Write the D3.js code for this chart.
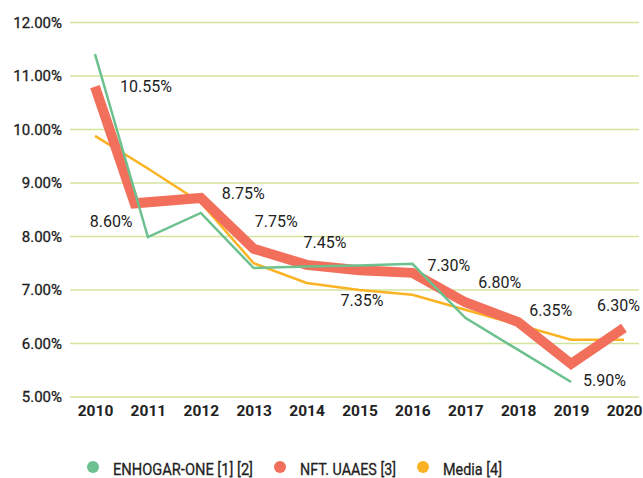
<!DOCTYPE html>
<html>
<head>
<meta charset="utf-8">
<script src="https://cdn.jsdelivr.net/npm/d3@7"></script>
<style>
  body { margin: 0; background: #fff; }
  text { font-family: Roboto, "Noto Sans", sans-serif; fill: #222; }
</style>
</head>
<body>
<svg id="chart"></svg>
<script>
// data
var years = [2010, 2011, 2012, 2013, 2014, 2015, 2016, 2017, 2018, 2019, 2020];
var yTicks = [5, 6, 7, 8, 9, 10, 11, 12];

var enhogarYears = [2010, 2011, 2012, 2013, 2014, 2015, 2016, 2017, 2018, 2019];
var enhogar = [11.41, 7.99, 8.44, 7.41, 7.44, 7.46, 7.49, 6.48, 5.88, 5.28];

var uaaesYears = [2010, 2010.75, 2012, 2013, 2014, 2015, 2016, 2017, 2018, 2019, 2020];
var uaaes = [10.80, 8.62, 8.72, 7.77, 7.47, 7.37, 7.32, 6.77, 6.40, 5.62, 6.29];
var uaaesLabels = ['10.55%', '8.60%', '8.75%', '7.75%', '7.45%', '7.35%', '7.30%', '6.80%', '6.35%', '5.90%', '6.30%'];

var mediaYears = [2010, 2011, 2012, 2013, 2014, 2015, 2016, 2017, 2018, 2019, 2020];
var media = [9.88, 9.27, 8.63, 7.50, 7.13, 7.00, 6.91, 6.63, 6.35, 6.07, 6.07];

var seriesNames = ['ENHOGAR-ONE [1] [2]', 'NFT. UAAES [3]', 'Media [4]'];

// label placement relative to its point (px)
var labelOffsets = [[25, 0], [-45, 18], [21, -5], [1, -27], [-3, -23], [-19, 30],
                    [15, -8], [13, -20], [11, -12], [12, 16], [-27, -23]];

var colors = ['#6cc18e', '#f26f5c', '#fbb323'];

var w = 643, h = 478;
var svg = d3.select('#chart').attr('width', w).attr('height', h);

var x = d3.scaleLinear().domain([2010, 2020]).range([95, 624]);
var y = d3.scaleLinear().domain([5, 12]).range([397, 22.5]);

// grid
svg.append('g')
  .selectAll('line')
  .data(yTicks)
  .enter()
  .append('line')
    .attr('x1', 70).attr('x2', 639)
    .attr('y1', d => y(d)).attr('y2', d => y(d))
    .attr('stroke', '#d3e59b')
    .attr('stroke-width', 1.5);

var yAxis = d3.axisLeft(y).tickValues(yTicks).tickSize(0).tickPadding(0)
  .tickFormat(d => d.toFixed(2) + '%');
var gY = svg.append('g').attr('transform', 'translate(62,0)').call(yAxis);
gY.select('.domain').remove();
gY.selectAll('text')
  .style('font-family', 'Roboto').style('font-size', '15px').style('font-weight', 400)
  .attr('fill', '#1a1a1a').attr('stroke', '#1a1a1a').attr('stroke-width', 0.3);

var xAxis = d3.axisBottom(x).tickValues(years).tickSize(0).tickPadding(0)
  .tickFormat(d3.format('d'));
var gX = svg.append('g').attr('transform', 'translate(0,405)').call(xAxis);
gX.select('.domain').remove();
gX.selectAll('text')
  .style('font-family', 'Roboto').style('font-size', '15.5px').style('font-weight', 700)
  .attr('fill', '#222');

function pts(xs, vs) { return vs.map((v, i) => [xs[i], v]); }

var line = d3.line().x(d => x(d[0])).y(d => y(d[1]));

var series = [
  { name: 'media', data: pts(mediaYears, media), color: colors[2], width: 2.5 },
  { name: 'uaaes', data: pts(uaaesYears, uaaes), color: colors[1], width: 10 },
  { name: 'enhogar', data: pts(enhogarYears, enhogar), color: colors[0], width: 2.5 }
];

svg.append('g')
  .selectAll('path')
  .data(series)
  .enter()
  .append('path')
    .attr('d', d => line(d.data))
    .attr('fill', 'none')
    .attr('stroke', d => d.color)
    .attr('stroke-width', d => d.width)
    .attr('stroke-linejoin', 'miter');

// data labels on the thick series
svg.append('g')
  .selectAll('text')
  .data(uaaesLabels)
  .enter()
  .append('text')
    .attr('x', (d, i) => x(uaaesYears[i]) + labelOffsets[i][0])
    .attr('y', (d, i) => y(uaaes[i]) + labelOffsets[i][1])
    .attr('dy', '0.355em')
    .style('font-size', '16px')
    .text(d => d);

// legend (narrow type, squeezed to the widths seen)
var legendWidths = [140, 96, 59];
var legend = svg.append('g').attr('transform', 'translate(0,467)');
var lx = 93;
seriesNames.forEach((name, i) => {
  legend.append('circle').attr('cx', lx).attr('cy', 0).attr('r', 6).attr('fill', colors[i]);
  legend.append('text')
    .attr('x', lx + 20).attr('y', 8)
    .attr('textLength', legendWidths[i]).attr('lengthAdjust', 'spacingAndGlyphs')
    .style('font-size', '17px').style('font-weight', 400)
    .attr('stroke', '#222').attr('stroke-width', 0.3)
    .text(name);
  lx += 20 + legendWidths[i] + 27;
});
</script>
</body>
</html>
